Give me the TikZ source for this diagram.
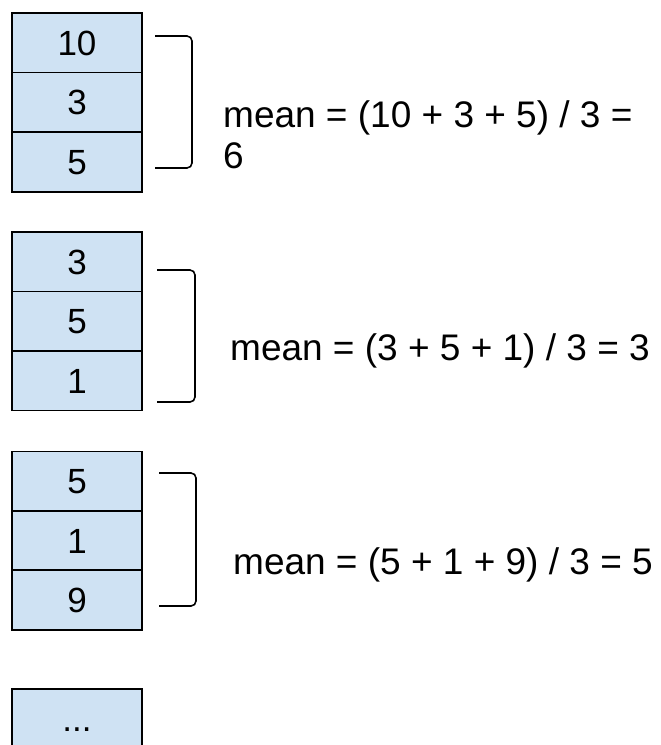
\documentclass[tikz,border=0pt]{standalone}
\usepackage{fontspec}
\setmainfont{Liberation Sans}
\definecolor{cellfill}{HTML}{CFE2F3}
\begin{document}
\begin{tikzpicture}[x=1pt,y=-1pt,
  cell/.style={draw=black,line width=1.8pt,fill=cellfill,minimum width=130pt,minimum height=59.6pt,
    inner sep=0pt,text height=25pt,text depth=0pt,font=\fontsize{35}{40}\selectfont},
  brk/.style={draw=black,line width=1.6pt,rounded corners=5pt},
  meantxt/.style={inner sep=0pt,anchor=base west,align=left,font=\fontsize{37}{41}\selectfont}]
\useasboundingbox (0,0) rectangle (661,745);
\clip (0,0) rectangle (661,745);
% group 1
\node[cell] (a1) at (77,42.7) {10};
\node[cell] (a2) at (77,102.3) {3};
\node[cell] (a3) at (77,162) {5};
\draw[brk] (155,36) -- (192,36) -- (192,168) -- (155,168);
\node[meantxt] (m1) at (223,168) {mean = (10 + 3 + 5) / 3 =\\6};
% group 2
\node[cell] (b1) at (77,261.7) {3};
\node[cell] (b2) at (77,321.2) {5};
\node[cell] (b3) at (77,380.7) {1};
\draw[brk] (157,270) -- (195,270) -- (195,402) -- (157,402);
\node[meantxt] (m2) at (230,360) {mean = (3 + 5 + 1) / 3 = 3};
% group 3
\node[cell] (c1) at (77,481.2) {5};
\node[cell] (c2) at (77,540.6) {1};
\node[cell] (c3) at (77,600) {9};
\draw[brk] (159,473) -- (196,473) -- (196,606) -- (159,606);
\node[meantxt] (m3) at (233,574) {mean = (5 + 1 + 9) / 3 = 5};
% ellipsis
\node[cell] (d1) at (77,719) {...};
\end{tikzpicture}
\end{document}
